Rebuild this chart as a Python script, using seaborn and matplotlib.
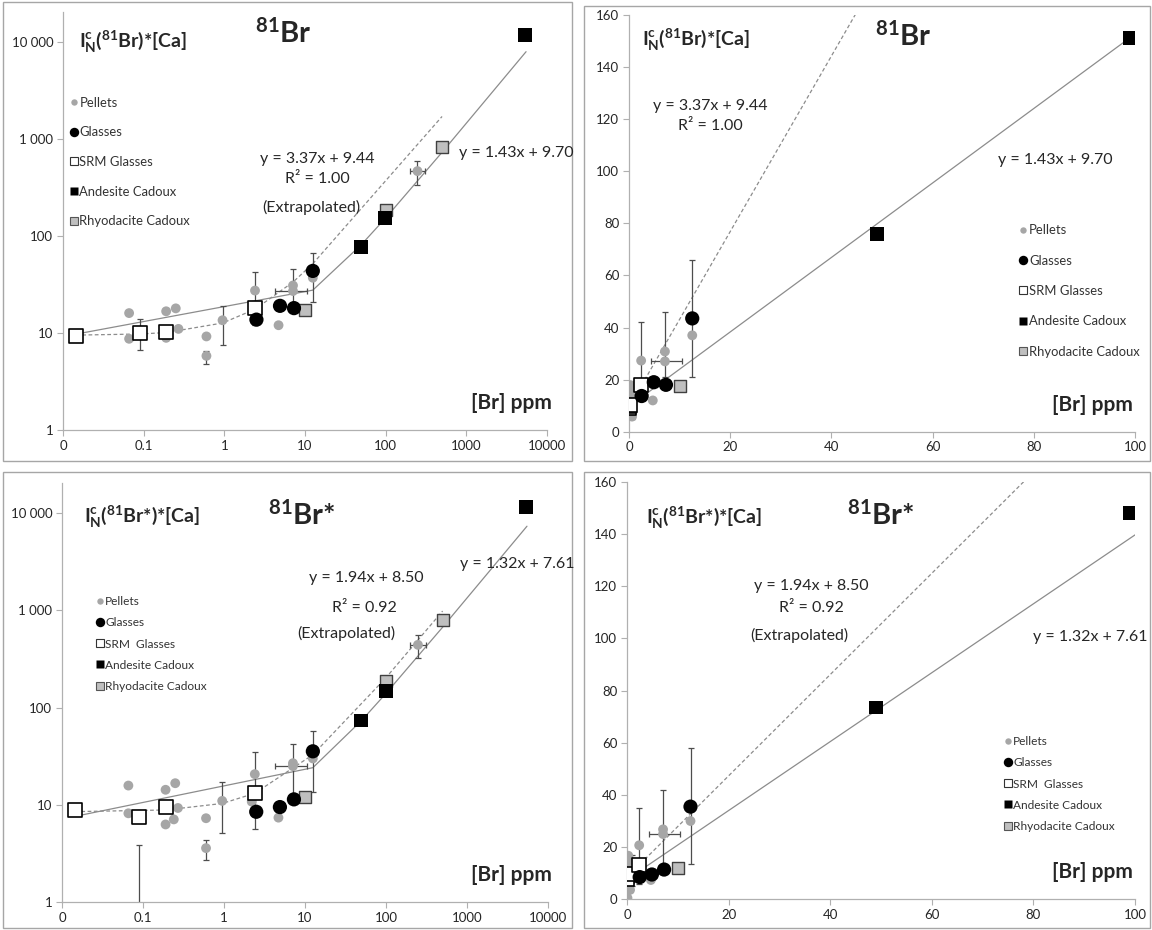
import numpy as np
import matplotlib.pyplot as plt
import seaborn as sns
from matplotlib.lines import Line2D
from matplotlib.patches import Rectangle

W, H = 1152, 930

# ---------------- data ----------------
# shared x positions ([Br] ppm)
srm_x = [0.0145, 0.09, 0.19, 2.4]
glass_x = [2.5, 4.9, 7.3, 12.5]
andes_x = [49, 99, 5300]
rhyo_x = [10, 100, 500]

# 81Br (top row)
pel_x_top = [0.066, 0.066, 0.19, 0.19, 0.25, 0.27, 0.6, 0.6, 0.95, 2.4, 4.7, 7.1, 7.1, 12.5, 248]
pel_y_top = [16.0, 8.7, 16.7, 8.9, 17.9, 11.0, 9.2, 5.8, 13.5, 27.3, 12.0, 30.8, 27.0, 37.0, 464]
glass_y_top = [13.7, 19.0, 18.0, 43.5]
srm_y_top = [9.2, 9.9, 10.1, 18.1]
andes_y_top = [76, 151, 11600]
rhyo_y_top = [17.4, 186, 820]

err_x_top = [0.09, 0.6, 0.95, 2.4, 7.1, 12.5, 248]
err_y_top = [9.9, 5.8, 13.5, 27.3, 27.0, 43.5, 464]
err_lo_top = [6.7, 4.8, 7.5, 12.0, 21.0, 21.0, 330]
err_hi_top = [14.0, 6.5, 19.0, 42.0, 46.0, 66.0, 590]
xerr_x_top = [7.1, 248]
xerr_y_top = [27.0, 464]
xerr_lo_top = [4.3, 200]
xerr_hi_top = [10.5, 310]

# 81Br* (bottom row)
pel_x_bot = [0.066, 0.066, 0.09, 0.19, 0.19, 0.24, 0.25, 0.27, 0.6, 0.6, 0.95, 2.2, 2.4, 4.7, 7.1, 7.1, 12.5, 248]
pel_y_bot = [15.8, 8.2, 0.5, 14.3, 6.3, 7.1, 16.7, 9.3, 7.3, 3.6, 11.0, 10.8, 20.7, 7.4, 26.8, 25.0, 30.0, 440]
glass_y_bot = [8.5, 9.5, 11.4, 35.5]
srm_y_bot = [8.9, 7.6, 9.6, 13.2]
andes_y_bot = [73.5, 148, 11400]
rhyo_y_bot = [12.0, 185, 795]

err_x_bot = [0.09, 0.6, 0.95, 2.4, 7.1, 12.5, 248]
err_y_bot = [0.5, 3.6, 11.0, 20.7, 26.8, 35.5, 440]
err_lo_bot = [0.5, 2.7, 5.2, 5.7, 13.0, 13.5, 320]
err_hi_bot = [3.9, 4.4, 17.0, 35.0, 42.0, 58.0, 560]
xerr_x_bot = [7.1, 248]
xerr_y_bot = [25.0, 440]
xerr_lo_bot = [4.3, 200]
xerr_hi_bot = [10.5, 310]

# trend lines (slope, intercept) as printed on the chart
fit_top = (1.43, 9.70)
ext_top = (3.37, 9.44)
fit_bot = (1.32, 7.61)
ext_bot = (1.94, 8.50)

# x nodes at which Excel joined the trend line segments
fit_nodes_log = [0.0145, 12.5, 50, 100, 500, 5500]
ext_nodes_log_top = [0.0145, 0.09, 0.19, 0.95, 2.4, 7.1, 12.5, 500]
ext_nodes_log_bot = [0.0145, 0.19, 0.95, 2.4, 12.5, 100, 500]
fit_nodes_lin_top = [0, 99]
fit_nodes_lin_bot = [0, 100]
ext_nodes_lin = [0, 100]

log_ticks_x = [0.01, 0.1, 1, 10, 100, 1000, 10000]
log_labels_x = ["0", "0.1", "1", "10", "100", "1000", "10000"]
log_ticks_y = [1, 10, 100, 1000, 10000]
log_labels_y = ["1", "10", "100", "1 000", "10 000"]

legend_labels = ["Pellets", "Glasses", "SRM Glasses", "Andesite Cadoux", "Rhyodacite Cadoux"]
legend_labels_bot = ["Pellets", "Glasses", "SRM  Glasses", "Andesite Cadoux", "Rhyodacite Cadoux"]

# ---------------- style ----------------
sns.set_theme(style="white")
plt.rcParams["font.family"] = ["Lato", "DejaVu Sans"]
plt.rcParams["mathtext.fontset"] = "custom"
plt.rcParams["mathtext.rm"] = "Lato"
plt.rcParams["mathtext.bf"] = "Lato:bold"
plt.rcParams["mathtext.it"] = "Lato:italic"

PEL = "#a6a6a6"
RHY = "#bfbfbf"
LINE = "#8c8c8c"
AXC = "#b0b0b0"
TXT = "#262626"
ERR = "#4d4d4d"

fig = plt.figure(figsize=(W / 100, H / 100), dpi=100)


def fx(px):
    return px / W


def fy(py):
    return 1 - py / H


def add_ax(left, right, top, bottom):
    return fig.add_axes([fx(left), fy(bottom), (right - left) / W, (bottom - top) / H])


def style_ax(ax):
    sns.despine(ax=ax)
    for s in ["left", "bottom"]:
        ax.spines[s].set_color(AXC)
        ax.spines[s].set_linewidth(0.9)
    ax.tick_params(axis="both", which="major", direction="out", length=4, width=0.8,
                   color=AXC, labelsize=9.5, labelcolor=TXT, pad=3, left=True, bottom=True)
    ax.minorticks_off()
    ax.grid(False)


def draw_points(ax, pel_x, pel_y, glass_y, srm_y, andes_y, rhyo_y,
                ex, ey, elo, ehi, hx, hy, hlo, hhi):
    ax.errorbar(ex, ey, yerr=[np.subtract(ey, elo), np.subtract(ehi, ey)], fmt="none",
                ecolor=ERR, elinewidth=0.9, capsize=2.2, capthick=0.9, zorder=2)
    ax.errorbar(hx, hy, xerr=[np.subtract(hx, hlo), np.subtract(hhi, hx)], fmt="none",
                ecolor=ERR, elinewidth=0.9, capsize=2.2, capthick=0.9, zorder=2)
    sns.scatterplot(x=pel_x, y=pel_y, ax=ax, marker="o", s=50, color=PEL,
                    edgecolor="none", zorder=3)
    sns.scatterplot(x=rhyo_x, y=rhyo_y, ax=ax, marker="s", s=85, color=RHY,
                    edgecolor="#404040", linewidth=1.0, zorder=4)
    sns.scatterplot(x=srm_x, y=srm_y, ax=ax, marker="s", s=95, color="white",
                    edgecolor="black", linewidth=1.2, zorder=4)
    sns.scatterplot(x=glass_x, y=glass_y, ax=ax, marker="o", s=105, color="black",
                    edgecolor="none", zorder=5)
    sns.scatterplot(x=andes_x, y=andes_y, ax=ax, marker="s", s=100, color="black",
                    edgecolor="none", zorder=5)


def draw_line(ax, nodes, coef, dashed):
    ys = [coef[0] * v + coef[1] for v in nodes]
    sns.lineplot(x=nodes, y=ys, ax=ax, estimator=None, sort=False, color=LINE,
                 linewidth=0.9, linestyle=(0, (3, 2)) if dashed else "-", zorder=1)


def add_legend(ax, labels, mx, my, fs, spacing):
    handles = [
        Line2D([], [], ls="none", marker="o", ms=4.6, mfc=PEL, mec="none"),
        Line2D([], [], ls="none", marker="o", ms=6.8, mfc="black", mec="none"),
        Line2D([], [], ls="none", marker="s", ms=5.4, mfc="white", mec="#333333", mew=0.8),
        Line2D([], [], ls="none", marker="s", ms=6.0, mfc="black", mec="none"),
        Line2D([], [], ls="none", marker="s", ms=5.4, mfc=RHY, mec="#555555", mew=0.8),
    ]
    hl = 0.6
    left = mx - hl * fs * 100 / 72 / 2
    leg = ax.legend(handles, labels, loc="center left", bbox_to_anchor=(fx(left), fy(my)),
                    bbox_transform=fig.transFigure, frameon=False, borderpad=0,
                    borderaxespad=0, handlelength=hl, handletextpad=0.15,
                    labelspacing=spacing, fontsize=fs)
    for t in leg.get_texts():
        t.set_color("#333333")


def label(px, py, s, size, ha="center", weight="normal"):
    fig.text(fx(px), fy(py), s, ha=ha, va="center", fontsize=size, color=TXT,
             fontweight=weight)


# ---------------- panels ----------------
ax_tl = add_ax(63, 547, 12.4, 430)
ax_tr = add_ax(629, 1135, 15, 431.7)
ax_bl = add_ax(62, 548, 483.4, 902.3)
ax_br = add_ax(627, 1135, 481.7, 899.3)

for ax in (ax_tl, ax_bl):
    ax.set_xscale("log")
    ax.set_yscale("log")

# top row : 81Br
for ax, log in ((ax_tl, True), (ax_tr, False)):
    if log:
        draw_line(ax, fit_nodes_log, fit_top, False)
        draw_line(ax, ext_nodes_log_top, ext_top, True)
    else:
        draw_line(ax, fit_nodes_lin_top, fit_top, False)
        draw_line(ax, ext_nodes_lin, ext_top, True)
    draw_points(ax, pel_x_top, pel_y_top, glass_y_top, srm_y_top, andes_y_top, rhyo_y_top,
                err_x_top, err_y_top, err_lo_top, err_hi_top,
                xerr_x_top, xerr_y_top, xerr_lo_top, xerr_hi_top)

# bottom row : 81Br*
for ax, log in ((ax_bl, True), (ax_br, False)):
    if log:
        draw_line(ax, fit_nodes_log, fit_bot, False)
        draw_line(ax, ext_nodes_log_bot, ext_bot, True)
    else:
        draw_line(ax, fit_nodes_lin_bot, fit_bot, False)
        draw_line(ax, ext_nodes_lin, ext_bot, True)
    draw_points(ax, pel_x_bot, pel_y_bot, glass_y_bot, srm_y_bot, andes_y_bot, rhyo_y_bot,
                err_x_bot, err_y_bot, err_lo_bot, err_hi_bot,
                xerr_x_bot, xerr_y_bot, xerr_lo_bot, xerr_hi_bot)

for ax in (ax_tl, ax_bl):
    ax.set_xlim(0.01, 10000)
    ax.set_ylim(1, 20000)
    ax.set_xticks(log_ticks_x)
    ax.set_xticklabels(log_labels_x)
    ax.set_yticks(log_ticks_y)
    ax.set_yticklabels(log_labels_y)
    style_ax(ax)

for ax in (ax_tr, ax_br):
    ax.set_xlim(0, 100)
    ax.set_ylim(0, 160)
    ax.set_xticks(range(0, 101, 20))
    ax.set_yticks(range(0, 161, 20))
    style_ax(ax)

for ax in (ax_tl, ax_tr, ax_bl, ax_br):
    ax.set_xlabel("")
    ax.set_ylabel("")

# legends
add_legend(ax_tl, legend_labels, 73.6, 162, 9.4, 1.35)
add_legend(ax_tr, legend_labels, 1023, 291, 9.4, 1.4)
add_legend(ax_bl, legend_labels_bot, 100, 644, 8.6, 0.85)
add_legend(ax_br, legend_labels_bot, 1008, 784, 8.6, 0.85)

# panel frames
for (x0, y0, x1, y1) in [(3, 2, 572, 461), (584, 6, 1150, 461), (3, 472, 572, 928), (584, 472, 1150, 928)]:
    fig.patches.append(Rectangle((fx(x0), fy(y1)), (x1 - x0) / W, (y1 - y0) / H,
                                 transform=fig.transFigure, fill=False,
                                 edgecolor="#a6a6a6", linewidth=1.0))

# texts
lab_top = r"I$^{\mathbf{c}}_{\mathbf{N}}$($^{\mathbf{81}}$Br)*[Ca]"
lab_bot = r"I$^{\mathbf{c}}_{\mathbf{N}}$($^{\mathbf{81}}$Br*)*[Ca]"
ttl_top = r"$^{\mathbf{81}}$Br"
ttl_bot = r"$^{\mathbf{81}}$Br*"

label(79, 42, lab_top, 14, ha="left", weight="bold")
label(642, 40, lab_top, 14, ha="left", weight="bold")
label(84, 517, lab_bot, 14, ha="left", weight="bold")
label(646, 518, lab_bot, 14, ha="left", weight="bold")

label(283, 33, ttl_top, 21, weight="bold")
label(903, 36, ttl_top, 21, weight="bold")
label(302, 515, ttl_bot, 21, weight="bold")
label(881, 515, ttl_bot, 21, weight="bold")

for px, py in [(511, 403), (1092, 405), (511, 875), (1092, 872)]:
    label(px, py, "[Br] ppm", 15, weight="bold")

eq_fs = 11.5
label(317, 159, "y = 3.37x + 9.44", eq_fs)
label(317, 179, "R² = 1.00", eq_fs)
label(311, 207, "(Extrapolated)", eq_fs)
label(516, 153, "y = 1.43x + 9.70", eq_fs)

label(710.7, 106, "y = 3.37x + 9.44", eq_fs)
label(710.7, 126, "R² = 1.00", eq_fs)
label(1055.5, 160, "y = 1.43x + 9.70", eq_fs)

label(366, 578, "y = 1.94x + 8.50", eq_fs)
label(364, 608, "R² = 0.92", eq_fs)
label(346, 633, "(Extrapolated)", eq_fs)
label(517, 564, "y = 1.32x + 7.61", eq_fs)

label(811, 586, "y = 1.94x + 8.50", eq_fs)
label(811, 608, "R² = 0.92", eq_fs)
label(799.5, 635, "(Extrapolated)", eq_fs)
label(1090, 637, "y = 1.32x + 7.61", eq_fs)

fig.savefig("out.png", dpi=100)
